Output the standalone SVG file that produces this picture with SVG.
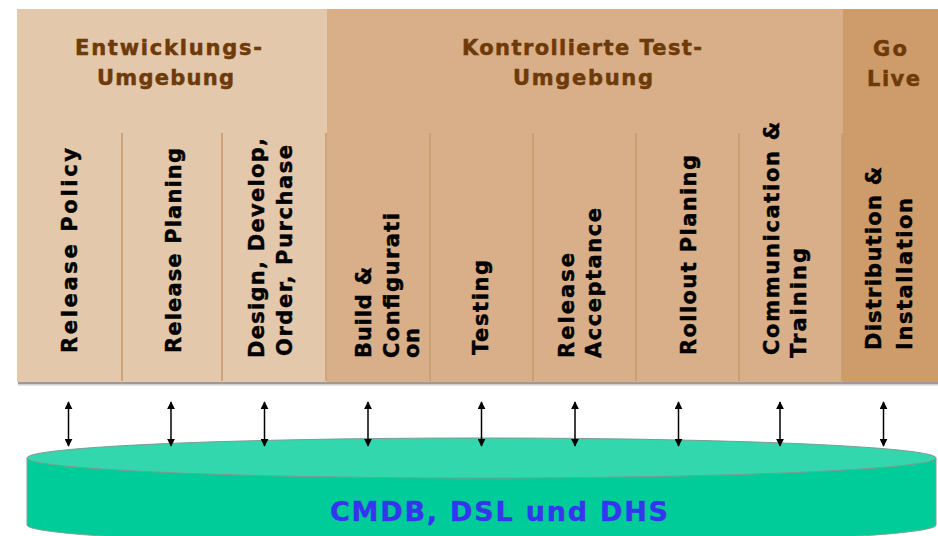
<svg xmlns="http://www.w3.org/2000/svg" width="938" height="536" viewBox="0 0 938 536">
<defs>
<style>
.hdr{font-family:"DejaVu Sans","Verdana",sans-serif;font-weight:bold;font-size:21px;fill:#6E3A08;stroke:#6E3A08;stroke-width:0.5}
.col{font-family:"DejaVu Sans","Verdana",sans-serif;font-weight:bold;font-size:21px;fill:#000;stroke:#000;stroke-width:0.45}
.div{stroke:#C49A70;stroke-width:1.5}
.arr{stroke:#000;stroke-width:1.5;fill:none;marker-start:url(#ah);marker-end:url(#ah)}
.db{font-family:"DejaVu Sans","Verdana",sans-serif;font-weight:bold;font-size:27px;fill:#3535F0;stroke:#3535F0;stroke-width:0.4}
</style>
<marker id="ah" viewBox="0 0 10 10" refX="9" refY="5" markerWidth="8" markerHeight="8" markerUnits="userSpaceOnUse" orient="auto-start-reverse">
<path d="M0,0 L10,5 L0,10 Z" fill="#000"/>
</marker>
</defs>
<rect x="0" y="0" width="938" height="536" fill="#fff"/>
<g id="panel">
<rect x="18" y="381" width="920" height="3" fill="#9a9a9a"/>
<rect x="18" y="384" width="920" height="1.5" fill="#d0d0d0"/>
</g>
<g id="sec-entwicklung">
<rect x="17" y="9" width="310" height="373" fill="#E4C8AC"/>
<text class="hdr" x="75" y="55" textLength="187" lengthAdjust="spacing">Entwicklungs-</text>
<text class="hdr" x="97" y="85" textLength="137" lengthAdjust="spacing">Umgebung</text>
</g>
<g id="sec-test">
<rect x="327" y="9" width="516" height="373" fill="#D8AF88"/>
<text class="hdr" x="462" y="55" textLength="240" lengthAdjust="spacing">Kontrollierte Test-</text>
<text class="hdr" x="513" y="85" textLength="140" lengthAdjust="spacing">Umgebung</text>
</g>
<g id="sec-golive">
<rect x="843" y="9" width="95" height="373" fill="#CE9C6A"/>
<text class="hdr" x="873" y="56" textLength="34" lengthAdjust="spacing">Go</text>
<text class="hdr" x="867" y="86" textLength="53" lengthAdjust="spacing">Live</text>
</g>
<g id="dividers">
<line class="div" x1="122" y1="133" x2="122" y2="381"/>
<line class="div" x1="222" y1="133" x2="222" y2="381"/>
<line class="div" x1="326" y1="133" x2="326" y2="381"/>
<line class="div" x1="430" y1="133" x2="430" y2="381"/>
<line class="div" x1="533" y1="133" x2="533" y2="381"/>
<line class="div" x1="636" y1="133" x2="636" y2="381"/>
<line class="div" x1="739" y1="133" x2="739" y2="381"/>
<line class="div" x1="842" y1="133" x2="842" y2="381"/>
</g>
<g id="col-release-policy">
<text class="col" transform="translate(77,353) rotate(-90)" textLength="205" lengthAdjust="spacing">Release Policy</text>
</g>
<g id="col-release-planing">
<text class="col" transform="translate(181,353) rotate(-90)" textLength="205" lengthAdjust="spacing">Release Planing</text>
</g>
<g id="col-design">
<text class="col" transform="translate(264,358) rotate(-90)" textLength="220" lengthAdjust="spacing">Design, Develop,</text>
<text class="col" transform="translate(292,356) rotate(-90)" textLength="211" lengthAdjust="spacing">Order, Purchase</text>
</g>
<g id="col-build">
<text class="col" transform="translate(371,358) rotate(-90)" textLength="91" lengthAdjust="spacing">Build &amp;</text>
<text class="col" transform="translate(399,358) rotate(-90)" textLength="145" lengthAdjust="spacing">Configurati</text>
<text class="col" transform="translate(419,358) rotate(-90)" textLength="30" lengthAdjust="spacing">on</text>
</g>
<g id="col-testing">
<text class="col" transform="translate(488,355) rotate(-90)" textLength="95" lengthAdjust="spacing">Testing</text>
</g>
<g id="col-acceptance">
<text class="col" transform="translate(574,358) rotate(-90)" textLength="105" lengthAdjust="spacing">Release</text>
<text class="col" transform="translate(601,358) rotate(-90)" textLength="150" lengthAdjust="spacing">Acceptance</text>
</g>
<g id="col-rollout">
<text class="col" transform="translate(696,355) rotate(-90)" textLength="200" lengthAdjust="spacing">Rollout Planing</text>
</g>
<g id="col-communication">
<text class="col" transform="translate(779,355) rotate(-90)" textLength="233" lengthAdjust="spacing">Communication &amp;</text>
<text class="col" transform="translate(806,358) rotate(-90)" textLength="110" lengthAdjust="spacing">Training</text>
</g>
<g id="col-distribution">
<text class="col" transform="translate(881,350) rotate(-90)" textLength="183" lengthAdjust="spacing">Distribution &amp;</text>
<text class="col" transform="translate(912,350) rotate(-90)" textLength="152" lengthAdjust="spacing">Installation</text>
</g>
<g id="database">
<path d="M27,458 L27,525 A454.5,20 0 0 0 936,525 L936,458 Z" fill="#00CC99" stroke="#7fa595" stroke-width="1"/>
<ellipse cx="481.5" cy="458" rx="454.5" ry="20" fill="#33D7AE" stroke="#7f9a8e" stroke-width="1"/>
<text class="db" x="330" y="521" textLength="338" lengthAdjust="spacing">CMDB, DSL und DHS</text>
</g>
<g id="connectors">
<line class="arr" x1="68.5" y1="402" x2="68.5" y2="446"/>
<line class="arr" x1="171" y1="402" x2="171" y2="446"/>
<line class="arr" x1="264.5" y1="402" x2="264.5" y2="446"/>
<line class="arr" x1="368" y1="402" x2="368" y2="446"/>
<line class="arr" x1="481.5" y1="402" x2="481.5" y2="446"/>
<line class="arr" x1="575" y1="402" x2="575" y2="446"/>
<line class="arr" x1="678.5" y1="402" x2="678.5" y2="446"/>
<line class="arr" x1="780" y1="402" x2="780" y2="446"/>
<line class="arr" x1="883.5" y1="402" x2="883.5" y2="446"/>
</g>
</svg>
